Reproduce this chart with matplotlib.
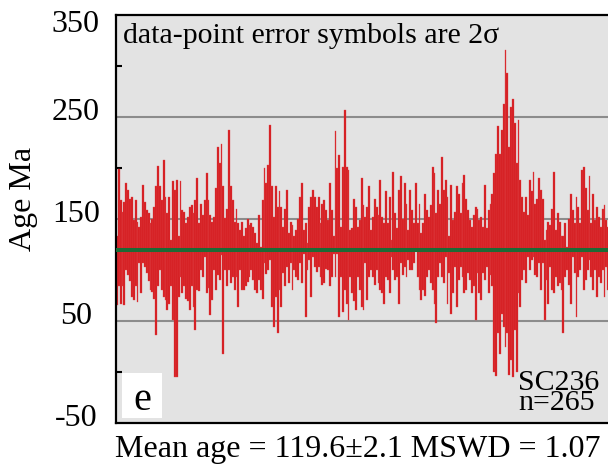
import matplotlib
matplotlib.use("Agg")
import matplotlib.pyplot as plt
from matplotlib.patches import Rectangle
from matplotlib.transforms import ScaledTranslation

# weighted-mean plot, sample SC236 -- 2-sigma error boxes (upper / lower ends, Ma)
age_hi = [
    133, 199, 169, 157, 167, 185, 178, 170, 172, 149, 169, 147, 142, 152, 183, 167, 159, 156, 146, 150,
    162, 182, 202, 182, 169, 208, 172, 156, 172, 129, 187, 178, 188, 133, 187, 159, 157, 146, 152, 162,
    164, 156, 169, 190,
    146, 165, 154, 169, 195, 169, 154, 147, 152, 180, 221, 205, 224, 182, 151, 160, 237, 182, 169, 147,
    160, 146, 139, 147, 133, 141, 150, 144, 146, 142, 136, 126, 154, 123, 169, 200, 185, 203, 242, 182,
    152, 182, 162, 177,
    162, 142, 160, 178, 136, 147, 144, 133, 139, 150, 172, 185, 139, 146, 126, 162, 172, 178, 172, 162,
    172, 146, 165, 169, 159, 149, 185, 159, 133, 236, 200, 213, 142, 201, 257, 201, 198, 139, 141, 170,
    162, 142, 149, 190,
    164, 152, 162, 182, 139, 152, 170, 162, 154, 188, 152, 146, 177, 146, 172, 129, 196, 156, 141, 178,
    192, 150, 185, 165, 139, 178, 159, 146, 185, 146, 165, 136, 146, 175, 159, 152, 164, 201, 195, 156,
    178, 165, 211, 178,
    188, 172, 133, 183, 149, 157, 182, 175, 156, 185, 193, 170, 159, 149, 142, 154, 162, 160, 149, 152,
    142, 183, 141, 159, 165, 175, 195, 214, 241, 214, 237, 263, 316, 293, 221, 260, 268, 244, 205, 247,
    188, 172, 157,
    172, 154, 188, 177, 196, 165, 170, 190, 178, 170, 129, 139, 147, 144, 160, 196, 139, 156, 147, 133,
    133, 146, 123, 150, 175, 159, 146, 172, 162, 146, 198, 201, 180, 159, 192, 146, 175, 149, 162, 152,
    142, 160, 164, 149, 142, 175,
]
age_lo = [
    66, 84, 67, 84, 66, 100, 95, 89, 74, 71, 84, 69, 107, 77, 107, 103, 97, 89, 80, 78,
    72, 36, 84, 100, 80, 74, 71, 61, 67, 84, 51, -5, -5, 74, 93, 77, 84, 72, 70, 61,
    84, 64, 41, 80,
    79, 100, 93, 113, 77, 82, 56, 71, 100, 80, 95, 90, 115, 18, 100, 84, 100, 87, 93, 80,
    93, 64, 100, 80, 80, 84, 88, 93, 100, 90, 80, 77, 90, 80, 72, 107, 96, 100, 110, 64,
    44, 74, 38, 80,
    64, 97, 84, 103, 87, 107, 80, 100, 93, 90, 107, 87, 116, 54, 100, 110, 74, 113, 103, 98,
    103, 93, 85, 87, 101, 100, 84, 93, 116, 93, 116, 54, 93, 59, 80, 67, 51, 93, 77, 70,
    61, 93, 80, 64,
    61, 107, 71, 93, 100, 93, 85, 100, 87, 80, 77, 67, 93, 90, 77, 113, 100, 90, 93, 67,
    107, 95, 103, 93, 110, 100, 100, 107, 120, 93, 80, 71, 80, 75, 93, 100, 87, 80, 67, 48,
    93, 107, 93, 87,
    113, 67, 97, 57, 77, 103, 64, 90, 103, 93, 77, 80, 97, 90, 77, 84, 51, 97, 77, 71,
    97, 90, 103, 77, 95, 84, 0, -4, 38, 18, 57, 44, 25, 38, -3, 12, -5, 41, 0, 77,
    64, 90, 100,
    87, 113, 100, 110, 113, 95, 93, 107, 80, 107, 51, 90, 67, 103, 80, 77, 93, 84, 87, 80,
    38, 93, 100, 85, 67, 113, 97, 54, 93, 100, 113, 80, 90, 100, 110, 93, 80, 100, 74, 93,
    87, 100, 74, 103, 80, 74,
]
mean_age = 119.6
ytick_labels = ["-50", "50", "150", "250", "350"]
grid_levels = [50, 150, 250]

W, H = 608, 466
plt.rcParams["font.family"] = ["Liberation Serif", "DejaVu Serif"]
fig = plt.figure(figsize=(W / 100, H / 100), dpi=100)
fig.patch.set_facecolor("white")


def fx(px):
    return px / W


def fy(py):
    return 1 - py / H


ax = fig.add_axes([fx(116), fy(423), fx(611 - 116), (423 - 15) / H])
ax.set_facecolor("#e3e3e3")

n = len(age_hi)
xs = list(range(1, n + 1))
heights = [h - l for h, l in zip(age_hi, age_lo)]

for g in grid_levels:
    ax.axhline(g, color="#8c8c8c", lw=1.5, zorder=1)
ax.bar(xs, heights, bottom=age_lo, width=1.0, color="#d41a1e",
       edgecolor="#e24a4d", linewidth=0.25, zorder=2)
ax.axhline(mean_age, color="#1d6a35", lw=2.9, zorder=3)

ax.set_xlim(0.5, n + 0.5)
ax.set_ylim(-50, 350)
ax.set_xticks([])
ax.set_yticks([float(t) for t in ytick_labels])
ax.set_yticklabels(ytick_labels, fontsize=23)
ax.set_yticks([0, 100, 200, 300], minor=True)
ax.tick_params(axis="y", which="major", length=0, pad=29)
ax.tick_params(axis="y", which="minor", direction="in", length=4, width=1.5)
for lab in ax.get_yticklabels():
    lab.set_horizontalalignment("center")
    dy = -6 if lab.get_text() == "350" else 8
    lab.set_transform(lab.get_transform() + ScaledTranslation(0, dy / 100, fig.dpi_scale_trans))
for side in ["left", "top", "bottom"]:
    ax.spines[side].set_linewidth(1.6)
ax.spines["right"].set_visible(False)

ax.text(fx(123), fy(43), "data-point error symbols are 2σ", transform=fig.transFigure,
        fontsize=21.5, va="baseline", ha="left", zorder=5)

fig.text(fx(24), fy(199), "Age Ma", rotation=90, fontsize=23, ha="center", va="center")

# panel letter box
fig.patches.append(Rectangle((fx(122), fy(418)), fx(40), 45 / H, transform=fig.transFigure,
                             facecolor="white", edgecolor="none", zorder=5))
fig.text(fx(142), fy(410), "e", fontsize=29, ha="center", va="baseline", zorder=6)

# sample name + count, tightly stacked as in the original
fig.text(fx(518), fy(410), "SC236\nn=265", fontsize=21.5, ha="left", va="baseline",
         linespacing=0.72)

fig.text(fx(115), fy(457), "Mean age = 119.6±2.1 MSWD = 1.07", fontsize=23,
         ha="left", va="baseline")

fig.savefig("out.png", dpi=100)
